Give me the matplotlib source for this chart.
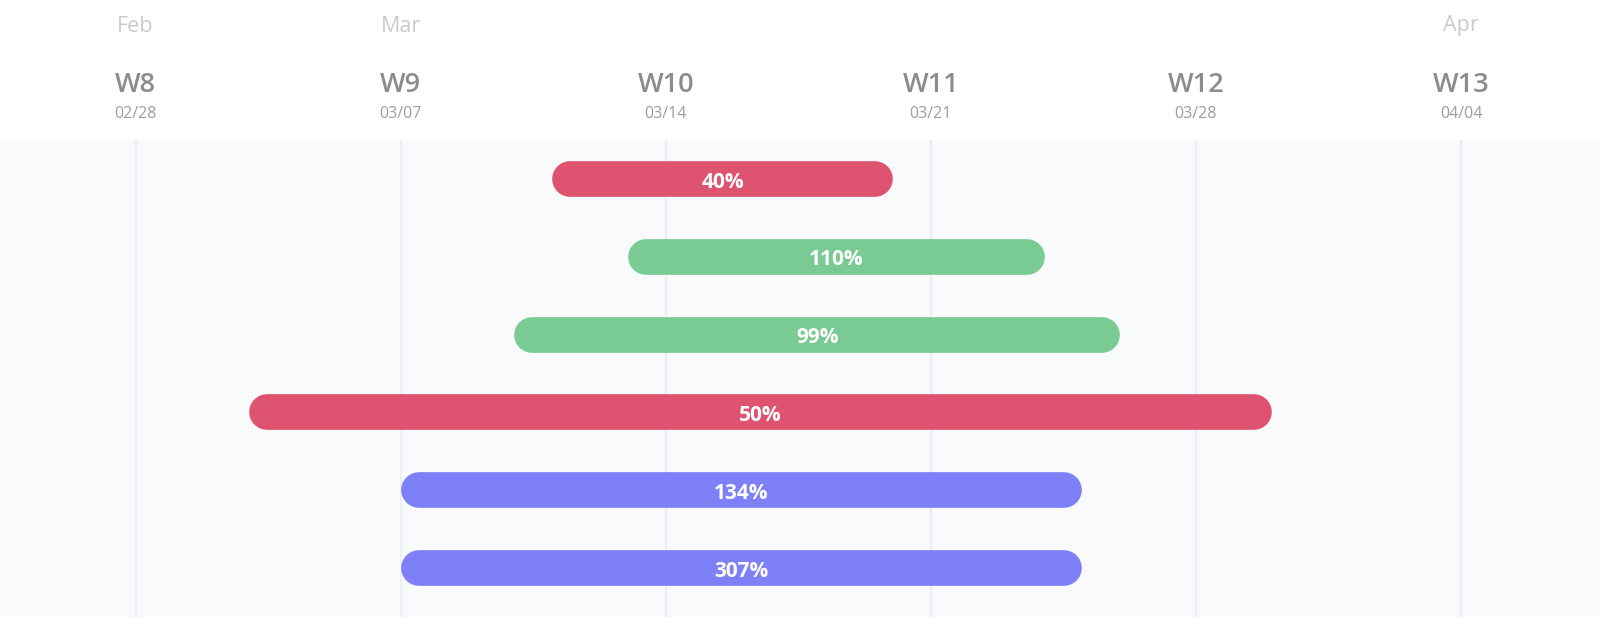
import numpy as np
import matplotlib
matplotlib.use("Agg")
import matplotlib.pyplot as plt
import matplotlib.dates as mdates

plt.rcParams['font.family'] = ['Open Sans', 'DejaVu Sans']

# task bars
starts = ['2021-03-11', '2021-03-13', '2021-03-10', '2021-03-03', '2021-03-07', '2021-03-07']
ends = ['2021-03-20', '2021-03-24', '2021-03-26', '2021-03-30', '2021-03-25', '2021-03-25']
progress = ['40%', '110%', '99%', '50%', '134%', '307%']
status = ['late', 'ok', 'ok', 'late', 'done', 'done']

# timeline header
weeks = ['W8', 'W9', 'W10', 'W11', 'W12', 'W13']
week_starts = ['2021-02-28', '2021-03-07', '2021-03-14', '2021-03-21', '2021-03-28', '2021-04-04']
months = ['Feb', 'Mar', 'Apr']
month_pos = ['2021-02-28', '2021-03-07', '2021-04-04']

status_colors = {'late': '#de5470', 'ok': '#7aca94', 'done': '#7e80f7'}

to_num = lambda d: mdates.date2num(np.datetime64(d))
week_x = [to_num(d) for d in week_starts]
x0 = week_x[0] - 3.58
x1 = week_x[0] + 38.67

W, H = 1600, 629
fig = plt.figure(figsize=(W / 100, H / 100), dpi=100)
fig.patch.set_facecolor('white')

# main gantt area (y from 140px to 617px)
ax = fig.add_axes([0, 12 / H, 1, 477 / H])
ax.set_facecolor('#f9fafb')
ax.set_xlim(x0, x1)
ax.set_ylim(5.63, -0.5)
for s in ax.spines.values():
    s.set_visible(False)
ax.set_xticks([])
ax.set_yticks([])

ax.vlines(week_x, -0.5, 5.63, color='#eceef1', lw=1.6, zorder=1)

px_per_day = W / (x1 - x0)
bar_px = 35.7
r_days = (bar_px / 2) / px_per_day
lw_pt = bar_px * 72 / 100

for i, (s, e, p, st) in enumerate(zip(starts, ends, progress, status)):
    xs, xe = to_num(s), to_num(e)
    ax.plot([xs + r_days, xe - r_days], [i, i], color=status_colors[st],
            lw=lw_pt, solid_capstyle='round', zorder=3)
    ax.text((xs + xe) / 2, i + 0.04, p, color='white', fontsize=15, fontweight='bold',
            ha='center', va='center', zorder=4)

# header
hx = fig.add_axes([0, (H - 140) / H, 1, 140 / H])
hx.set_facecolor('white')
hx.set_xlim(x0, x1)
hx.set_ylim(140, 0)
hx.axis('off')
hx.axhline(139.5, color='#efefef', lw=1)

for m, d in zip(months, month_pos):
    hx.text(to_num(d), 26, m, color='#cbcbcb', fontsize=15.5, ha='center', va='center')
for w, x, d in zip(weeks, week_x, week_starts):
    hx.text(x, 85.5, w, color='#8c8c8c', fontsize=19.5, fontweight='semibold',
            ha='center', va='center')
    hx.text(x, 114, d[5:].replace('-', '/'), color='#9d9d9d', fontsize=11.5,
            ha='center', va='center')

fig.savefig('out.png', dpi=100, facecolor='white')
